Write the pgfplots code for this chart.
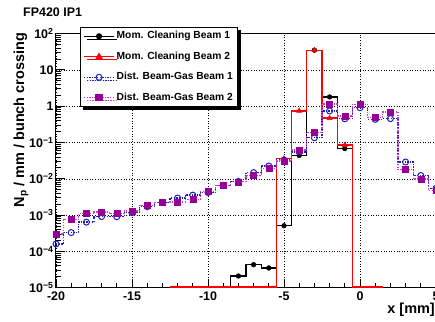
\documentclass[border=0pt]{standalone}
\usepackage{fontspec}
\setmainfont{Liberation Sans}
\usepackage{pgfplots}
\pgfplotsset{compat=1.18}
\usepackage{pgfplotstable}
\usetikzlibrary{shadows}

\definecolor{blueC}{RGB}{30,30,190}
\definecolor{purpM}{RGB}{150,0,150}
\definecolor{purpL}{RGB}{205,60,205}

% bin centre, content (empty bins drawn at the bottom of the axis)
\pgfplotstableread{
x y
-9 1.05e-5
-8 2.1e-5
-7 4.3e-5
-6 3.5e-5
-5 5.1e-4
-4 0.044
-3 35
-2 1.8
-1 0.068
0 1.05e-5
}\momA

\pgfplotstableread{
x y
-12 1.05e-5
-11 1.05e-5
-10 1.05e-5
-9 1.05e-5
-8 1.05e-5
-7 1.05e-5
-6 1.05e-5
-5 0.036
-4 0.74
-3 35
-2 0.47
-1 0.085
0 1.05e-5
1 1.05e-5
2 1.05e-5
}\momB

\pgfplotstableread{
x y
-20 1.6e-4
-19 3.3e-4
-18 6.4e-4
-17 9.1e-4
-16 9.0e-4
-15 1.17e-3
-14 1.7e-3
-13 2.2e-3
-12 2.95e-3
-11 3.55e-3
-10 4.2e-3
-9 6.6e-3
-8 8.5e-3
-7 0.0148
-6 0.0225
-5 0.033
-4 0.055
-3 0.135
-2 0.74
-1 0.45
0 0.91
1 0.435
2 0.455
3 0.029
4 0.0123
5 0.0055
6 0.0055
}\distA

\pgfplotstableread{
x y
-20 3.0e-4
-19 7.6e-4
-18 1.12e-3
-17 1.22e-3
-16 1.1e-3
-15 1.3e-3
-14 1.85e-3
-13 2.2e-3
-12 2.3e-3
-11 2.7e-3
-10 4.5e-3
-9 6.6e-3
-8 8.3e-3
-7 0.0126
-6 0.019
-5 0.031
-4 0.062
-3 0.19
-2 1.15
-1 0.54
0 1.13
1 0.49
2 0.69
3 0.018
4 0.0098
5 0.0048
6 0.0048
}\distB

\begin{document}
\begin{tikzpicture}
\useasboundingbox (-56bp,-34.3bp) rectangle (379bp,287.7bp);
\begin{axis}[
  scale only axis,
  width=380bp, height=254.1bp,
  at={(0,0)}, anchor=south west,
  ymode=log,
  xmin=-20, xmax=5,
  ymin=1e-5, ymax=100,
  xtick={-20,-15,-10,-5,0,5},
  xticklabels={-20,-15,-10,-5,0,5},
  minor x tick num=4,
  ytick={1e-5,1e-4,1e-3,1e-2,1e-1,1,10,100},
  yticklabels={10\textsuperscript{−5},10\textsuperscript{−4},10\textsuperscript{−3},10\textsuperscript{−2},10\textsuperscript{−1},1,10,10\textsuperscript{2}},
  tick label style={font=\fontsize{12.5}{14}\selectfont\bfseries},
  xticklabel style={yshift=-1bp},
  yticklabel style={xshift=1bp},
  tick align=inside,
  xtick pos=left, ytick pos=left,
  major tick length=9bp, minor tick length=5bp,
  tick style={black, line width=0.8bp},
  axis line style={line width=1bp},
  grid=major,
  major grid style={black, line width=0.6bp, dash pattern=on 0.8bp off 1.8bp},
  legend cell align=left,
  legend image code/.code={\draw[mark repeat=2,mark phase=2,#1] plot coordinates {(0bp,0bp) (15bp,0bp) (30bp,0bp)};},
  legend style={at={(0.063,1.026)}, anchor=north west,
    font=\fontsize{10.3}{12}\selectfont\bfseries,
    draw=black, line width=0.9bp, fill=white,
    inner xsep=3bp, inner ysep=2bp, row sep=6.8bp,
    nodes={inner ysep=2bp, text height=7.5bp, text depth=2.2bp},
    drop shadow={shadow xshift=3bp, shadow yshift=-3bp, fill=black, opacity=1}},
]
\addlegendimage{black, line width=1.3bp, mark=*, mark size=2.4bp}
\addlegendentry{Mom. Cleaning Beam 1}
\addlegendimage{red, line width=1.3bp, mark=triangle*, mark size=3bp}
\addlegendentry{Mom. Cleaning Beam 2}
\addlegendimage{blueC, line width=1.3bp, dash pattern=on 1.3bp off 1.3bp, mark=o, mark size=3bp, mark options={solid, line width=1bp}}
\addlegendentry{Dist. Beam-Gas Beam 1}
\addlegendimage{purpL, line width=1.3bp, dash pattern=on 1.3bp off 1.3bp, mark=square*, mark size=3bp, mark options={solid, fill=purpM, draw=purpM}}
\addlegendentry{Dist. Beam-Gas Beam 2}

% Mom. cleaning beam 1
\addplot[black, line width=1.3bp, const plot mark left, forget plot] table[x expr=\thisrow{x}-0.5, y=y]{\momA};
\addplot[black, only marks, mark=*, mark size=2.4bp, forget plot] coordinates {
(-8,2.1e-5) (-7,4.3e-5) (-6,3.5e-5) (-5,5.1e-4) (-4,0.044) (-3,35) (-2,1.8) (-1,0.068)};
% Mom. cleaning beam 2
\addplot[red, line width=1.3bp, const plot mark left, forget plot] table[x expr=\thisrow{x}-0.5, y=y]{\momB};
\addplot[red, only marks, mark=triangle*, mark size=3bp, forget plot] coordinates {
(-5,0.036) (-4,0.74) (-3,35) (-2,0.47) (-1,0.085)};
% Dist. beam-gas beam 1
\addplot[blueC, line width=1.3bp, dash pattern=on 1.3bp off 1.3bp, const plot mark left, forget plot] table[x expr=\thisrow{x}-0.5, y=y]{\distA};
\addplot[blueC, only marks, mark=o, mark size=3bp, mark options={line width=1bp}, forget plot] table[x=x, y=y]{\distA};
% Dist. beam-gas beam 2
\addplot[purpL, line width=1.3bp, dash pattern=on 1.3bp off 1.3bp, const plot mark left, forget plot] table[x expr=\thisrow{x}-0.5, y=y]{\distB};
\addplot[purpM, only marks, mark=square*, mark size=3bp, forget plot] table[x=x, y=y]{\distB};
\end{axis}
\node[anchor=west, inner sep=0, font=\fontsize{12.5}{14}\selectfont\bfseries] at (-33bp,275.2bp) {FP420 IP1};
\node[rotate=90, inner sep=0, font=\fontsize{14.5}{16}\selectfont\bfseries] at (-35bp,167.5bp) {N\textsubscript{p} / mm / bunch crossing};
\node[anchor=east, inner sep=0, font=\fontsize{14.5}{16}\selectfont\bfseries] at (379bp,-22.3bp) {x [mm]};
\end{tikzpicture}
\end{document}
